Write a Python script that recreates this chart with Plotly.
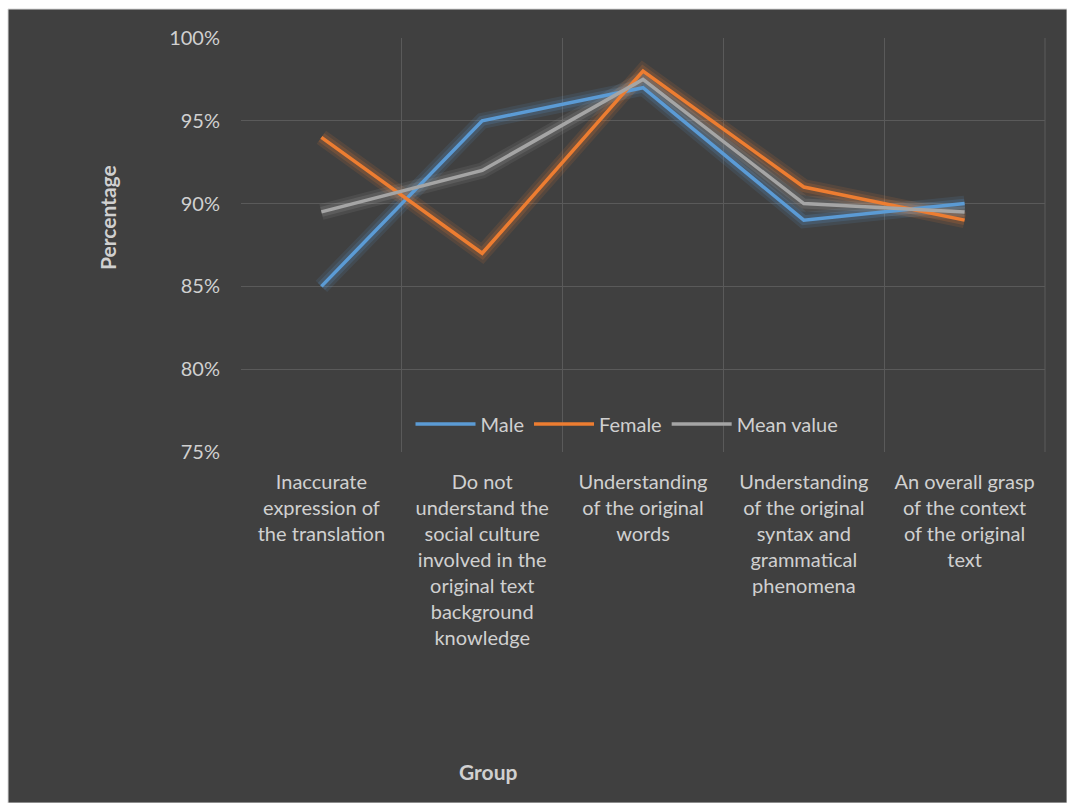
import plotly.graph_objects as go

categories = [
    "Inaccurate<br>expression of<br>the translation",
    "Do not<br>understand the<br>social culture<br>involved in the<br>original text<br>background<br>knowledge",
    "Understanding<br>of the original<br>words",
    "Understanding<br>of the original<br>syntax and<br>grammatical<br>phenomena",
    "An overall grasp<br>of the context<br>of the original<br>text",
]
male = [85, 95, 97, 89, 90]
female = [94, 87, 98, 91, 89]
mean_value = [89.5, 92, 97.5, 90, 89.5]

series = [
    ("Male", male, "#5B9BD5"),
    ("Female", female, "#ED7D31"),
    ("Mean value", mean_value, "#A5A5A5"),
]

TEXT = "#D0D0D0"
GRID = "#5A5A5A"
FONT = "Lato, 'Noto Sans', sans-serif"

fig = go.Figure()

# glow layers
for name, vals, col in series:
    for w, op in [(16, 0.12), (10, 0.18)]:
        fig.add_trace(go.Scatter(
            x=categories, y=vals, mode="lines",
            line=dict(color=col, width=w), opacity=op,
            showlegend=False, hoverinfo="skip",
        ))

for name, vals, col in series:
    fig.add_trace(go.Scatter(
        x=categories, y=vals, mode="lines", name=name,
        line=dict(color=col, width=3.5),
    ))

L, R, T, B = 241, 22, 38, 351
W, H = 1067, 803
pw, ph = W - L - R, H - T - B

def px_x(x):
    return (x - L) / pw

def px_y(y):
    return (H - B - y) / ph

fig.update_layout(
    width=W, height=H,
    margin=dict(l=L, r=R, t=T, b=B),
    paper_bgcolor="white",
    plot_bgcolor="#404040",
    font=dict(family=FONT, color=TEXT, size=18),
    showlegend=True,
    legend=dict(
        orientation="h", x=px_x(627), y=px_y(424),
        xanchor="center", yanchor="middle",
        bgcolor="rgba(0,0,0,0)", font=dict(size=20, color=TEXT),
        itemwidth=60,
    ),
    shapes=[
        dict(type="rect", xref="paper", yref="paper", layer="below",
             x0=px_x(8), x1=px_x(1067), y0=px_y(803), y1=px_y(9),
             fillcolor="#404040", line=dict(color="#D9D9D9", width=1)),
        dict(type="line", xref="paper", yref="paper", layer="below",
             x0=1, x1=1, y0=0, y1=1, line=dict(color=GRID, width=1)),
    ],
    annotations=[
        dict(text="<b>Percentage</b>", xref="paper", yref="paper",
             x=px_x(107), y=px_y(218), textangle=-90, showarrow=False,
             font=dict(size=21, color=TEXT), xanchor="center", yanchor="middle"),
        dict(text="<b>Group</b>", xref="paper", yref="paper",
             x=px_x(488), y=px_y(771), showarrow=False,
             font=dict(size=21, color=TEXT), xanchor="center", yanchor="middle"),
    ],
)

fig.update_xaxes(
    type="category", tickson="boundaries", range=[-0.5, 4.5],
    showgrid=True, gridcolor=GRID, gridwidth=1,
    showline=False, ticks="", zeroline=False,
    tickfont=dict(size=20, color=TEXT), ticklabelstandoff=16,
)
fig.update_yaxes(
    range=[75, 100], dtick=5, ticksuffix="%",
    showgrid=True, gridcolor=GRID, gridwidth=1,
    showline=False, ticks="", zeroline=False,
    tickfont=dict(size=20, color=TEXT), ticklabelstandoff=20,
)

fig.write_html("out.html")
